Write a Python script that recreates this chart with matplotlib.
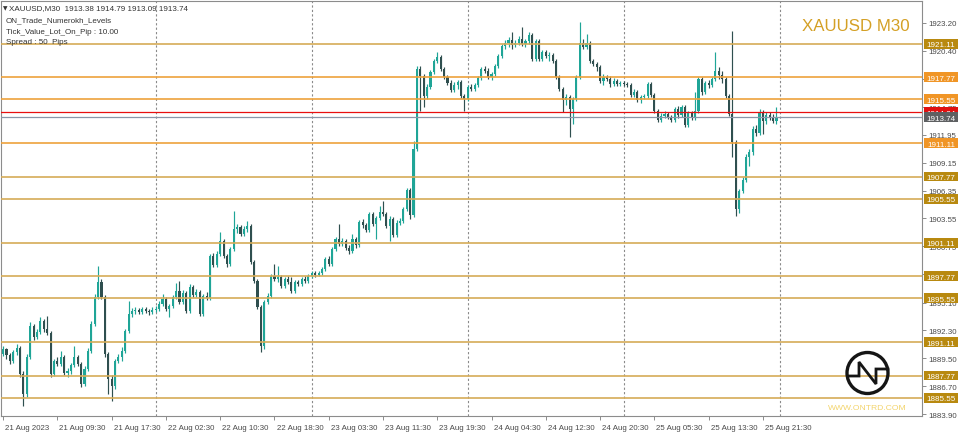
import matplotlib
matplotlib.use("Agg")
import matplotlib.pyplot as plt
import matplotlib.transforms as mtransforms
from matplotlib.patches import Rectangle, Circle
from matplotlib.lines import Line2D

# ---------------- data (XAUUSD M30, 21-25 Aug 2023) ----------------
opens = [
    1890.23, 1889.93, 1890.44, 1889.83, 1889.23, 1890.13, 1890.54, 1887.92, 1885.91, 1889.63,
    1892.75, 1891.64, 1892.14, 1893.25, 1892.45, 1892.04, 1887.92, 1889.23, 1888.93, 1889.63,
    1888.02, 1888.22, 1888.83, 1889.63, 1888.93, 1886.92, 1888.43, 1890.23, 1892.95, 1895.66,
    1897.17, 1895.66, 1889.93, 1887.42, 1886.72, 1889.23, 1889.63, 1890.23, 1892.24, 1893.95,
    1894.25, 1894.35, 1894.15, 1894.46, 1894.25, 1894.15, 1894.35, 1894.46, 1894.96, 1895.46,
    1894.46, 1894.76, 1895.66, 1896.26, 1895.16, 1896.06, 1894.25, 1896.67, 1895.86, 1896.16,
    1893.95, 1895.76, 1895.56, 1899.78, 1898.88, 1899.98, 1901.29, 1899.78, 1898.98, 1900.49,
    1902.50, 1902.70, 1901.99, 1902.50, 1902.80, 1899.18, 1897.27, 1894.66, 1890.74, 1895.16,
    1895.76, 1897.77, 1897.47, 1897.67, 1896.77, 1897.47, 1897.17, 1896.26, 1897.17, 1896.97,
    1897.47, 1897.27, 1897.77, 1898.07, 1897.87, 1898.07, 1898.48, 1899.48, 1898.98, 1900.49,
    1901.49, 1900.99, 1901.29, 1900.59, 1900.28, 1901.49, 1900.89, 1903.20, 1902.90, 1902.39,
    1904.00, 1903.00, 1903.60, 1904.20, 1904.00, 1902.80, 1903.50, 1901.89, 1903.10, 1903.30,
    1904.51, 1906.41, 1903.90, 1910.54, 1918.58, 1917.87, 1915.86, 1916.77, 1918.27, 1919.38,
    1919.78, 1918.58, 1917.77, 1917.17, 1916.46, 1916.97, 1917.27, 1915.86, 1915.56, 1916.77,
    1916.57, 1916.97, 1917.67, 1918.58, 1918.37, 1917.77, 1918.07, 1918.88, 1919.88, 1920.89,
    1921.19, 1921.49, 1920.99, 1921.19, 1921.59, 1921.09, 1921.39, 1921.99, 1919.58, 1921.39,
    1919.58, 1920.28, 1919.88, 1919.98, 1919.38, 1917.77, 1916.57, 1915.46, 1915.76, 1914.56,
    1915.56, 1917.77, 1921.19, 1920.79, 1921.19, 1919.38, 1919.08, 1918.78, 1917.37, 1917.77,
    1917.57, 1917.07, 1917.37, 1917.07, 1917.17, 1917.07, 1916.97, 1915.96, 1916.26, 1915.46,
    1915.76, 1915.86, 1917.07, 1915.96, 1914.35, 1913.45, 1913.85, 1914.05, 1913.75, 1913.45,
    1914.56, 1913.95, 1914.76, 1912.95, 1914.15, 1913.65, 1914.35, 1917.57, 1916.26, 1917.17,
    1916.97, 1917.57, 1918.37, 1917.97, 1917.57, 1915.86, 1914.05, 1911.24, 1904.51, 1906.31,
    1907.42, 1909.73, 1910.23, 1912.55, 1912.14, 1914.15, 1913.35, 1913.95, 1913.65, 1913.38,
]
highs = [
    1890.64, 1890.74, 1890.54, 1890.03, 1890.33, 1890.94, 1890.74, 1888.22, 1889.93, 1893.15,
    1892.95, 1892.45, 1893.65, 1893.45, 1893.75, 1892.24, 1889.43, 1889.63, 1890.23, 1889.83,
    1888.53, 1889.03, 1890.74, 1889.83, 1889.13, 1888.73, 1890.54, 1893.25, 1895.96, 1898.78,
    1897.47, 1895.86, 1890.13, 1887.82, 1889.43, 1889.93, 1890.64, 1892.45, 1895.26, 1894.56,
    1894.66, 1894.56, 1894.66, 1894.66, 1894.46, 1894.66, 1894.76, 1895.26, 1895.96, 1895.66,
    1894.96, 1895.86, 1897.07, 1897.27, 1896.36, 1896.26, 1896.97, 1896.87, 1896.47, 1896.36,
    1895.96, 1896.16, 1899.98, 1900.08, 1900.28, 1902.19, 1901.49, 1899.98, 1900.69, 1904.30,
    1903.00, 1902.90, 1902.80, 1903.30, 1903.00, 1899.38, 1897.47, 1894.86, 1895.36, 1896.06,
    1897.97, 1898.98, 1898.78, 1897.87, 1897.67, 1897.77, 1897.67, 1897.37, 1897.37, 1897.67,
    1897.77, 1897.97, 1898.27, 1898.27, 1898.27, 1898.68, 1899.68, 1899.78, 1900.69, 1901.69,
    1903.00, 1901.59, 1901.49, 1900.89, 1901.99, 1901.69, 1903.40, 1903.50, 1903.10, 1904.20,
    1904.20, 1903.80, 1904.81, 1905.31, 1904.20, 1903.80, 1903.70, 1903.40, 1903.60, 1904.71,
    1906.62, 1906.62, 1911.34, 1918.88, 1918.88, 1918.07, 1917.07, 1918.47, 1919.58, 1920.28,
    1919.98, 1918.78, 1917.97, 1917.47, 1917.27, 1917.47, 1917.47, 1916.06, 1916.97, 1917.07,
    1917.17, 1917.87, 1918.78, 1918.88, 1918.68, 1918.27, 1919.08, 1920.08, 1921.09, 1921.49,
    1921.79, 1922.29, 1921.49, 1921.89, 1922.80, 1921.59, 1922.29, 1922.19, 1921.59, 1921.59,
    1920.48, 1920.48, 1920.28, 1920.18, 1919.58, 1917.97, 1916.77, 1916.06, 1915.96, 1915.76,
    1917.97, 1923.30, 1921.59, 1922.09, 1921.39, 1919.58, 1919.28, 1918.98, 1918.07, 1917.97,
    1917.87, 1917.67, 1917.57, 1917.37, 1917.37, 1917.27, 1917.17, 1916.57, 1916.46, 1915.96,
    1916.06, 1917.27, 1917.27, 1916.16, 1914.56, 1914.15, 1914.35, 1914.25, 1913.95, 1914.76,
    1914.86, 1914.96, 1914.96, 1914.35, 1914.35, 1916.26, 1917.77, 1917.77, 1917.37, 1917.47,
    1917.77, 1920.28, 1918.78, 1918.37, 1917.77, 1916.06, 1922.39, 1911.44, 1906.52, 1907.72,
    1910.03, 1910.54, 1912.85, 1912.95, 1914.56, 1914.45, 1914.25, 1914.25, 1914.05, 1914.79,
]
lows = [
    1889.63, 1889.73, 1889.43, 1888.93, 1889.03, 1889.83, 1887.62, 1884.71, 1885.61, 1889.43,
    1891.34, 1891.44, 1891.94, 1892.14, 1891.84, 1887.62, 1887.72, 1888.73, 1888.73, 1887.82,
    1887.62, 1887.92, 1888.63, 1888.73, 1886.62, 1886.72, 1888.22, 1890.03, 1892.75, 1895.46,
    1895.46, 1889.63, 1885.91, 1885.21, 1886.42, 1889.03, 1889.23, 1890.03, 1892.04, 1893.65,
    1893.95, 1893.95, 1893.95, 1894.05, 1893.85, 1893.95, 1894.15, 1894.25, 1894.76, 1894.25,
    1893.65, 1894.56, 1895.46, 1894.96, 1894.96, 1894.05, 1894.05, 1895.66, 1895.66, 1893.75,
    1893.75, 1895.36, 1895.36, 1898.68, 1898.68, 1899.78, 1899.58, 1898.68, 1898.78, 1900.28,
    1902.09, 1901.79, 1901.79, 1902.19, 1898.98, 1897.07, 1894.46, 1890.14, 1890.44, 1894.96,
    1895.56, 1897.27, 1897.17, 1896.57, 1896.57, 1896.97, 1896.06, 1896.06, 1896.77, 1896.77,
    1897.07, 1897.07, 1897.57, 1897.67, 1897.77, 1897.87, 1898.27, 1898.78, 1898.78, 1900.28,
    1900.79, 1900.79, 1900.38, 1899.98, 1900.08, 1900.59, 1900.69, 1902.60, 1902.19, 1902.19,
    1902.80, 1901.49, 1903.40, 1903.80, 1902.60, 1901.29, 1901.69, 1901.69, 1902.90, 1903.10,
    1904.30, 1903.50, 1903.70, 1910.33, 1914.35, 1914.76, 1915.56, 1916.57, 1918.07, 1919.18,
    1918.37, 1917.57, 1916.97, 1916.26, 1916.26, 1916.57, 1915.66, 1914.35, 1915.36, 1916.36,
    1916.36, 1916.77, 1917.47, 1918.17, 1917.57, 1917.47, 1917.87, 1918.68, 1919.68, 1920.59,
    1920.79, 1920.59, 1920.79, 1920.99, 1920.89, 1920.79, 1921.09, 1919.38, 1919.38, 1919.38,
    1919.38, 1919.68, 1919.38, 1919.18, 1917.57, 1916.36, 1914.25, 1914.96, 1911.74, 1913.05,
    1915.36, 1917.57, 1920.59, 1920.59, 1919.18, 1918.88, 1918.37, 1917.17, 1916.97, 1917.37,
    1916.77, 1916.87, 1916.87, 1916.87, 1916.87, 1916.77, 1915.76, 1915.76, 1915.26, 1915.16,
    1915.56, 1915.66, 1915.76, 1914.15, 1913.25, 1913.25, 1913.65, 1913.55, 1913.25, 1913.25,
    1913.65, 1913.75, 1912.75, 1912.75, 1913.45, 1913.45, 1914.15, 1915.96, 1916.06, 1916.67,
    1916.77, 1917.37, 1917.57, 1917.17, 1915.66, 1913.85, 1909.73, 1903.80, 1904.10, 1906.11,
    1907.22, 1908.83, 1909.93, 1911.84, 1911.94, 1912.04, 1913.05, 1913.45, 1913.15, 1913.09,
]
closes = [
    1889.93, 1890.44, 1889.83, 1889.23, 1890.13, 1890.54, 1887.92, 1885.91, 1889.63, 1892.75,
    1891.64, 1892.14, 1893.25, 1892.45, 1892.04, 1887.92, 1889.23, 1888.93, 1889.63, 1888.02,
    1888.22, 1888.83, 1889.63, 1888.93, 1886.92, 1888.43, 1890.23, 1892.95, 1895.66, 1897.17,
    1895.66, 1889.93, 1887.42, 1886.72, 1889.23, 1889.63, 1890.23, 1892.24, 1893.95, 1894.25,
    1894.35, 1894.15, 1894.46, 1894.25, 1894.15, 1894.35, 1894.46, 1894.96, 1895.46, 1894.46,
    1894.76, 1895.66, 1896.26, 1895.16, 1896.06, 1894.25, 1896.67, 1895.86, 1896.16, 1893.95,
    1895.76, 1895.56, 1899.78, 1898.88, 1899.98, 1901.29, 1899.78, 1898.98, 1900.49, 1902.50,
    1902.70, 1901.99, 1902.50, 1902.80, 1899.18, 1897.27, 1894.66, 1890.74, 1895.16, 1895.76,
    1897.77, 1897.47, 1897.67, 1896.77, 1897.47, 1897.17, 1896.26, 1897.17, 1896.97, 1897.47,
    1897.27, 1897.77, 1898.07, 1897.87, 1898.07, 1898.48, 1899.48, 1898.98, 1900.49, 1901.49,
    1900.99, 1901.29, 1900.59, 1900.28, 1901.49, 1900.89, 1903.20, 1902.90, 1902.39, 1904.00,
    1903.00, 1903.60, 1904.20, 1904.00, 1902.80, 1903.50, 1901.89, 1903.10, 1903.30, 1904.51,
    1906.41, 1903.90, 1910.54, 1918.58, 1917.87, 1915.86, 1916.77, 1918.27, 1919.38, 1919.78,
    1918.58, 1917.77, 1917.17, 1916.46, 1916.97, 1917.27, 1915.86, 1915.56, 1916.77, 1916.57,
    1916.97, 1917.67, 1918.58, 1918.37, 1917.77, 1918.07, 1918.88, 1919.88, 1920.89, 1921.19,
    1921.49, 1920.99, 1921.19, 1921.59, 1921.09, 1921.39, 1921.99, 1919.58, 1921.39, 1919.58,
    1920.28, 1919.88, 1919.98, 1919.38, 1917.77, 1916.57, 1915.46, 1915.76, 1914.56, 1915.56,
    1917.77, 1921.19, 1920.79, 1921.19, 1919.38, 1919.08, 1918.78, 1917.37, 1917.77, 1917.57,
    1917.07, 1917.37, 1917.07, 1917.17, 1917.07, 1916.97, 1915.96, 1916.26, 1915.46, 1915.76,
    1915.86, 1917.07, 1915.96, 1914.35, 1913.45, 1913.85, 1914.05, 1913.75, 1913.45, 1914.56,
    1913.95, 1914.76, 1912.95, 1914.15, 1913.65, 1914.35, 1917.57, 1916.26, 1917.17, 1916.97,
    1917.57, 1918.37, 1917.97, 1917.57, 1915.86, 1914.05, 1911.24, 1904.51, 1906.31, 1907.42,
    1909.73, 1910.23, 1912.55, 1912.14, 1914.15, 1913.35, 1913.95, 1913.65, 1913.38, 1913.74,
]

time_labels = ["21 Aug 2023", "21 Aug 09:30", "21 Aug 17:30", "22 Aug 02:30", "22 Aug 10:30",
               "22 Aug 18:30", "23 Aug 03:30", "23 Aug 11:30", "23 Aug 19:30", "24 Aug 04:30",
               "24 Aug 12:30", "24 Aug 20:30", "25 Aug 05:30", "25 Aug 13:30", "25 Aug 21:30"]
time_label_bars = [1, 17, 33, 49, 65, 81, 97, 113, 129, 145, 161, 177, 193, 209, 225]
day_start_bars = [46, 92, 138, 184, 230]
price_ticks = [1923.20, 1920.40, 1917.60, 1914.75, 1911.95, 1909.15, 1906.35, 1903.55,
               1900.75, 1897.95, 1895.10, 1892.30, 1889.50, 1886.70, 1883.90]
levels = [1921.11, 1917.77, 1915.55, 1911.11, 1907.77, 1905.55, 1901.11,
          1897.77, 1895.55, 1891.11, 1887.77, 1885.55]
near_levels = [1917.77, 1915.55, 1911.11]
bid_price = 1913.74
ask_price = 1914.24
header_lines = ["XAUUSD,M30  1913.38 1914.79 1913.09 1913.74",
                "ON_Trade_Numerokh_Levels",
                "Tick_Value_Lot_On_Pip : 10.00",
                "Spread : 50  Pips"]
symbol_title = "XAUUSD M30"
site_text = "WWW.ONTRD.COM"

# ---------------- style ----------------
FONT = ['Liberation Sans', 'DejaVu Sans']
plt.rcParams['font.family'] = FONT
BULL = '#1fa597'
BEAR = '#2f4f4f'
GOLD_LINE = '#d6ac58'
ORANGE_LINE = '#eea23c'
GOLD_BOX = '#b8890f'
ORANGE_BOX = '#f09526'
FRAME = '#8c8c8c'

W, H = 960, 435
fig = plt.figure(figsize=(W / 100, H / 100), dpi=100, facecolor='white')
ax = fig.add_axes([1 / W, (H - 417) / H, 921 / W, 415 / H])
ax.set_facecolor('white')

n = len(closes)
idx = list(range(n))
cols = [BULL if c >= o else BEAR for o, c in zip(opens, closes)]
ax.vlines(idx, lows, highs, colors=cols, linewidth=0.85, zorder=2)
bottoms = [min(o, c) for o, c in zip(opens, closes)]
heights = [max(abs(c - o), 0.07) for o, c in zip(opens, closes)]
ax.bar(idx, heights, bottom=bottoms, width=0.62, color=cols, linewidth=0, zorder=2.5)

# day separators
for b in day_start_bars:
    ax.axvline(b, color='#8a8a8a', linewidth=0.8, linestyle=(0, (2, 2)), zorder=1)

# level lines
for lv in levels:
    ax.axhline(lv, color=ORANGE_LINE if lv in near_levels else GOLD_LINE,
               linewidth=1.2, zorder=3)
ax.axhline(ask_price, color='#e81010', linewidth=0.9, zorder=3)
ax.axhline(bid_price, color='#8a96a8', linewidth=0.9, zorder=3)

ax.set_xlim(0.383, 271.9)
ax.set_ylim(1883.70, 1925.41)

# axes / ticks
for s in ax.spines.values():
    s.set_color(FRAME)
    s.set_linewidth(0.8)
ax.yaxis.tick_right()
ax.set_yticks(price_ticks)
ax.set_yticklabels([f"{p:.2f}" for p in price_ticks])
ax.tick_params(axis='y', direction='out', length=3, width=0.7, colors=FRAME,
               labelcolor='#4a4a4a', labelsize=5.7, pad=1.5)
ax.set_xticks(time_label_bars)
ax.set_xticklabels(time_labels)
ax.tick_params(axis='x', direction='out', length=3, width=0.7, colors=FRAME,
               labelcolor='#4a4a4a', labelsize=5.7, pad=2.5)
shift = mtransforms.ScaledTranslation(1.5 / 72, 0, fig.dpi_scale_trans)
for lbl in ax.get_xticklabels():
    lbl.set_ha('left')
    lbl.set_transform(lbl.get_transform() + shift)

# right-hand price boxes
trans = mtransforms.blended_transform_factory(ax.transAxes, ax.transData)
bx0 = (924 - 1) / 921
bw = 34 / 921
bh = 1.0
def price_box(price, face, zo):
    ax.add_patch(Rectangle((bx0, price - bh / 2), bw, bh, transform=trans,
                           facecolor=face, edgecolor='none', clip_on=False, zorder=zo))
    ax.text(bx0 + bw / 2, price, f"{price:.2f}", transform=trans, ha='center',
            va='center_baseline', fontsize=5.8, color='white', clip_on=False, zorder=zo + 0.1)

for lv in levels:
    price_box(lv, ORANGE_BOX if lv in near_levels else GOLD_BOX, 10)
price_box(ask_price, '#e01010', 11)
price_box(bid_price, '#5e6062', 12)

# ---------------- overlay decorations (pixel coordinates) ----------------
ov = fig.add_axes([0, 0, 1, 1], zorder=5)
ov.set_xlim(0, W)
ov.set_ylim(H, 0)
ov.axis('off')
ov.patch.set_alpha(0)

ov.text(3, 10.3, "\u25BC", fontsize=4.2, color='#333333', family=['DejaVu Sans'])
ov.text(9, 10.5, header_lines[0], fontsize=5.8, color='#333333')
ov.text(6, 22.3, header_lines[1], fontsize=5.8, color='#333333')
ov.text(6, 33.5, header_lines[2], fontsize=5.8, color='#333333')
ov.text(6, 44.5, header_lines[3], fontsize=5.8, color='#333333')

ov.text(855.5, 30.7, symbol_title, fontsize=12.2, color='#d4a025', ha='center', va='baseline')

ov.add_patch(Circle((867.5, 374), 20.5, fill=False, edgecolor='#151515', linewidth=2.4))
ov.add_line(Line2D([847.5, 859, 859, 876, 876, 888],
                   [377, 377, 363, 385, 370, 370], color='#151515', linewidth=2.0,
                   solid_joinstyle='miter'))
ov.text(867.5, 410, site_text, fontsize=6.1, color='#f3d46c', ha='center', va='baseline')

fig.savefig('out.png', dpi=100, facecolor='white')
